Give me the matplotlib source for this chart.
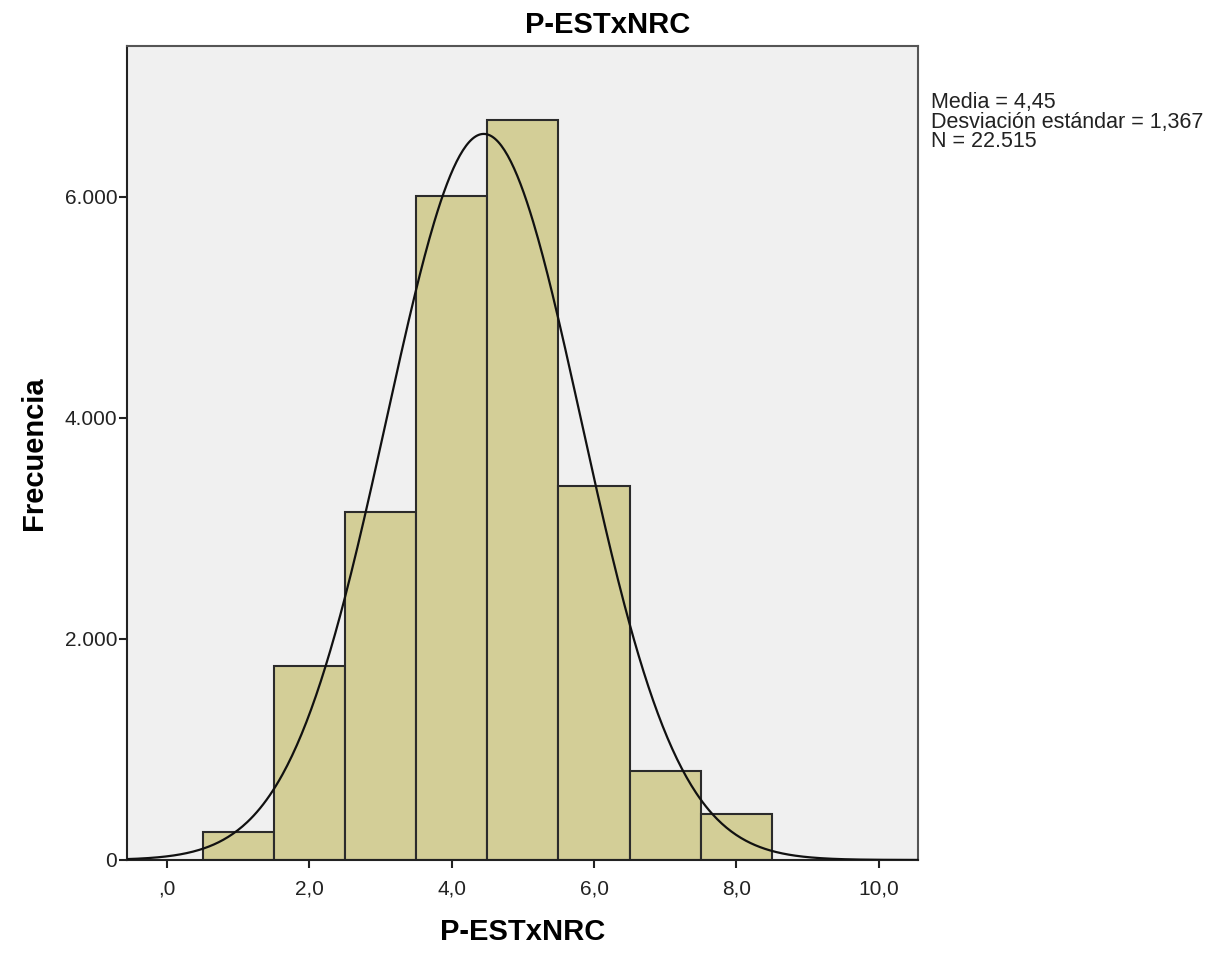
import numpy as np
import matplotlib.pyplot as plt
from matplotlib.ticker import FixedLocator

plt.rcParams['font.family'] = ['Liberation Sans', 'DejaVu Sans']

# Datos del histograma
bin_centers = [1, 2, 3, 4, 5, 6, 7, 8]
counts = [253, 1756, 3150, 6010, 6700, 3380, 805, 416]
media = 4.45
desv = 1.367
n_total = 22515

x_ticks = [0, 2, 4, 6, 8, 10]
x_tick_labels = [',0', '2,0', '4,0', '6,0', '8,0', '10,0']
y_ticks = [0, 2000, 4000, 6000]
y_tick_labels = ['0', '2.000', '4.000', '6.000']

fig = plt.figure(figsize=(12.15, 9.55), dpi=100)
ax = fig.add_axes([0.1045, 0.0995, 0.651, 0.8523])
ax.set_facecolor('#f0f0f0')

ax.bar(bin_centers, counts, width=1.0, color='#d3ce97', edgecolor='#2b2b2b', linewidth=1.5, zorder=2)

# Curva normal a partir de media, desviación y N
xs = np.linspace(-0.6, 10.6, 500)
ys = n_total * 1.0 / (desv * np.sqrt(2 * np.pi)) * np.exp(-0.5 * ((xs - media) / desv) ** 2)
ax.plot(xs, ys, color='#111111', linewidth=1.6, zorder=3)

ax.set_xlim(-0.562, 10.55)
ax.set_ylim(0, 7366)
ax.xaxis.set_major_locator(FixedLocator(x_ticks))
ax.set_xticklabels(x_tick_labels)
ax.yaxis.set_major_locator(FixedLocator(y_ticks))
ax.set_yticklabels(y_tick_labels)
ax.tick_params(axis='both', labelsize=15, length=6, width=1.5, color='#222222', labelcolor='#222222')
ax.tick_params(axis='x', pad=8)
ax.tick_params(axis='y', pad=1)

for side in ['left', 'bottom']:
    ax.spines[side].set_color('#222222')
    ax.spines[side].set_linewidth(1.5)
for side in ['top', 'right']:
    ax.spines[side].set_color('#555555')
    ax.spines[side].set_linewidth(1.5)

fig.text(0.5, 0.988, 'P-ESTxNRC', fontsize=21, fontweight='bold', ha='center', va='top')
ax.set_xlabel('P-ESTxNRC', fontsize=21, fontweight='bold', labelpad=14)
ax.set_ylabel('Frecuencia', fontsize=21, fontweight='bold', labelpad=12)

fig.text(0.766, 0.904, 'Media = 4,45\nDesviación estándar = 1,367\nN = 22.515',
         fontsize=15.5, va='top', ha='left', linespacing=0.93, color='#222222')

fig.savefig('out.png', dpi=100)
